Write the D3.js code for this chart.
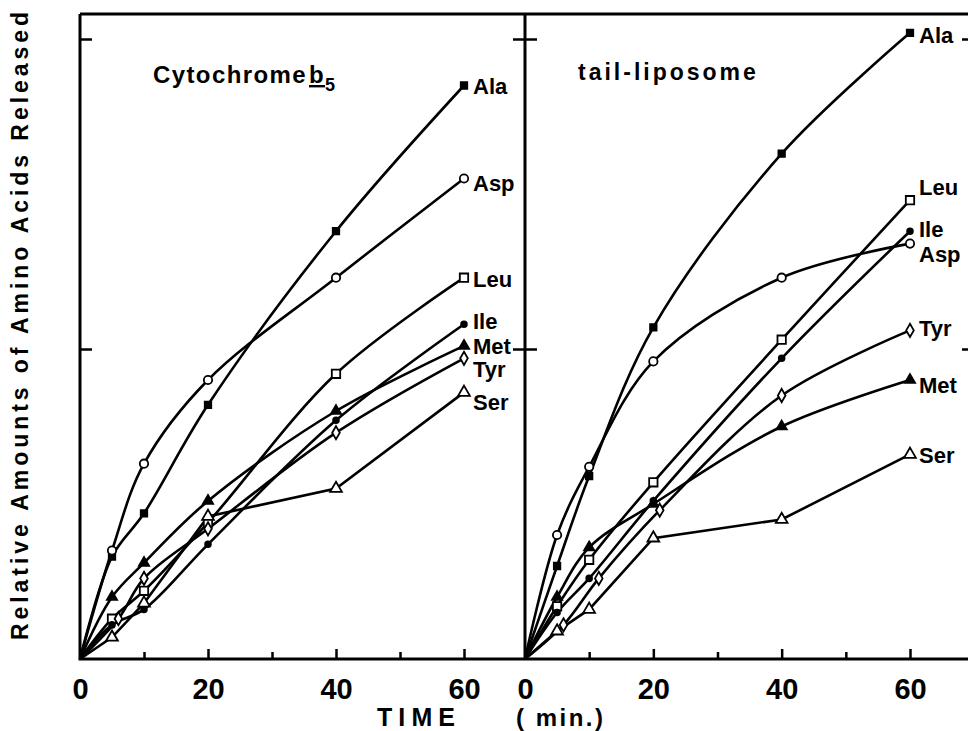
<!DOCTYPE html>
<html>
<head>
<meta charset="utf-8">
<script src="https://cdn.jsdelivr.net/npm/d3@7"></script>
<style>
    body { margin: 0; background: #fff; }
    svg { display: block; font-family: "Liberation Sans", Arial, sans-serif; font-weight: bold; }
</style>
</head>
<body>
<svg id="chart" width="968" height="731"></svg>
<script>
var aminoAcids = ["Ala", "Asp", "Leu", "Ile", "Met", "Tyr", "Ser"];
var times = [0, 5, 10, 20, 40, 60];
var tyrTimesCyto = [0, 6, 10, 20, 40, 60];
var tyrTimesTail = [0, 6, 11.5, 21, 40, 60];

// Cytochrome b5
var cytoAla = [0, 0.33, 0.47, 0.82, 1.38, 1.85];
var cytoAsp = [0, 0.35, 0.63, 0.90, 1.23, 1.55];
var cytoLeu = [0, 0.13, 0.22, 0.44, 0.92, 1.23];
var cytoIle = [0, 0.11, 0.16, 0.37, 0.77, 1.08];
var cytoMet = [0, 0.20, 0.31, 0.51, 0.80, 1.01];
var cytoTyr = [0, 0.13, 0.26, 0.42, 0.73, 0.97];
var cytoSer = [0, 0.07, 0.18, 0.46, 0.55, 0.86];

// tail-liposome
var tailAla = [0, 0.30, 0.59, 1.07, 1.63, 2.02];
var tailAsp = [0, 0.40, 0.62, 0.96, 1.23, 1.34];
var tailLeu = [0, 0.17, 0.32, 0.57, 1.03, 1.48];
var tailIle = [0, 0.15, 0.26, 0.51, 0.97, 1.38];
var tailMet = [0, 0.20, 0.36, 0.50, 0.75, 0.90];
var tailTyr = [0, 0.11, 0.26, 0.48, 0.85, 1.06];
var tailSer = [0, 0.09, 0.16, 0.39, 0.45, 0.66];

var yTicks = [1, 2];
var xMajorTicks = [0, 20, 40, 60];
var xMinorTicks = [10, 30, 50];

// marker look per amino acid
var markers = {
    Ala: {type: d3.symbolSquare, fill: true, size: 42},
    Asp: {type: d3.symbolCircle, fill: false, size: 55},
    Leu: {type: d3.symbolSquare, fill: false, size: 70},
    Ile: {type: d3.symbolCircle, fill: true, size: 26},
    Met: {type: d3.symbolTriangle, fill: true, size: 45},
    Tyr: {type: d3.symbolDiamond, fill: false, size: 50},
    Ser: {type: d3.symbolTriangle, fill: false, size: 60}
};

var svg = d3.select("#chart");
var yTop = 14, yBottom = 659;

var y = d3.scaleLinear().domain([0, 2]).range([yBottom, 39]);

function panel(opts) {
    var x = d3.scaleLinear().domain([0, 60]).range(opts.range);
    var g = svg.append("g");

    var smooth = d3.line()
        .x(function (d) { return x(d.t); })
        .y(function (d) { return y(d.v); })
        .curve(d3.curveCatmullRom.alpha(0.5));
    var straight = d3.line()
        .x(function (d) { return x(d.t); })
        .y(function (d) { return y(d.v); });

    opts.series.forEach(function (s) {
        var pts = s.values.map(function (v, i) { return {t: s.times[i], v: v}; });
        g.append("path")
            .datum(pts)
            .attr("d", s.name === "Ser" ? straight : smooth)
            .attr("fill", "none")
            .attr("stroke", "#000")
            .attr("stroke-width", 2.6);
    });

    opts.series.forEach(function (s) {
        var m = markers[s.name];
        var pts = s.values.map(function (v, i) { return {t: s.times[i], v: v}; }).slice(1);
        var sym = d3.symbol().type(m.type).size(m.size);
        g.selectAll(null).data(pts).enter().append("path")
            .attr("d", sym)
            .attr("transform", function (d) { return "translate(" + x(d.t) + "," + y(d.v) + ")"; })
            .attr("fill", m.fill ? "#000" : "#fff")
            .attr("stroke", "#000")
            .attr("stroke-width", 1.8);
    });

    // end labels
    opts.series.forEach(function (s, i) {
        var last = s.values[s.values.length - 1];
        g.append("text")
            .attr("x", x(60) + opts.labelDx)
            .attr("y", y(last) + opts.labelDy[i])
            .attr("font-size", 22)
            .text(s.name);
    });

    var minor = d3.axisBottom(x).tickValues(xMinorTicks).tickSize(-7).tickFormat("");
    var major = d3.axisBottom(x).tickValues(xMajorTicks).tickSize(-10).tickPadding(19)
        .tickFormat(d3.format("d"));

    var gm = g.append("g").attr("transform", "translate(0," + yBottom + ")").call(minor);
    var gM = g.append("g").attr("transform", "translate(0," + yBottom + ")").call(major);
    gm.select(".domain").remove();
    gM.select(".domain").remove();
    g.selectAll(".tick line").attr("stroke-width", 2.5);
    gM.selectAll("text")
        .attr("font-family", "Liberation Sans, Arial, sans-serif")
        .attr("font-weight", "bold")
        .attr("font-size", 29);

    return x;
}

var xL = panel({
    range: [80, 464],
    series: [
        {name: "Ala", times: times, values: cytoAla},
        {name: "Asp", times: times, values: cytoAsp},
        {name: "Leu", times: times, values: cytoLeu},
        {name: "Ile", times: times, values: cytoIle},
        {name: "Met", times: times, values: cytoMet},
        {name: "Tyr", times: tyrTimesCyto, values: cytoTyr},
        {name: "Ser", times: times, values: cytoSer}
    ],
    labelDx: 9,
    labelDy: [8, 12, 9, 5, 8, 19, 18]
});

var xR = panel({
    range: [525, 910],
    series: [
        {name: "Ala", times: times, values: tailAla},
        {name: "Asp", times: times, values: tailAsp},
        {name: "Leu", times: times, values: tailLeu},
        {name: "Ile", times: times, values: tailIle},
        {name: "Met", times: times, values: tailMet},
        {name: "Tyr", times: tyrTimesTail, values: tailTyr},
        {name: "Ser", times: times, values: tailSer}
    ],
    labelDx: 9,
    labelDy: [10, 18, -5, 6, 13, 6, 9]
});

// frame
var frame = svg.append("g").attr("stroke", "#000").attr("stroke-width", 3).attr("fill", "none");
frame.append("path").attr("d", "M80," + yTop + "V" + yBottom + "H968");
frame.append("path").attr("d", "M80," + yTop + "H968");
frame.append("path").attr("d", "M525," + yTop + "V" + yBottom);

// y ticks
function yTickAxis(axis, xpos, len) {
    var a = svg.append("g").attr("transform", "translate(" + xpos + ",0)")
        .call(axis(y).tickValues(yTicks).tickSize(len).tickFormat(""));
    a.select(".domain").remove();
    a.selectAll(".tick line").attr("stroke-width", 2.5);
}
yTickAxis(d3.axisRight, 80, 12);
yTickAxis(d3.axisLeft, 525, 12);
yTickAxis(d3.axisRight, 525, 12);
yTickAxis(d3.axisLeft, 972, 10);

// panel titles
var t1 = svg.append("text").attr("x", 153).attr("y", 83).attr("font-size", 24).attr("letter-spacing", 1.4);
t1.append("tspan").text("Cytochrome");
t1.append("tspan").attr("text-decoration", "underline").attr("dx", 2).text("b");
t1.append("tspan").attr("font-size", 18).attr("dy", 8).text("5");

svg.append("text").attr("x", 578).attr("y", 80).attr("font-size", 23)
    .attr("letter-spacing", 3).text("tail-liposome");

// axis titles
svg.append("text")
    .attr("transform", "translate(28,326) rotate(-90)")
    .attr("text-anchor", "middle")
    .attr("font-size", 23)
    .attr("textLength", 628)
    .attr("lengthAdjust", "spacing")
    .text("Relative Amounts of Amino Acids Released");

svg.append("text").attr("x", 377).attr("y", 726).attr("font-size", 25)
    .attr("textLength", 78).attr("lengthAdjust", "spacing").text("TIME");
svg.append("text").attr("x", 516).attr("y", 726).attr("font-size", 24)
    .attr("textLength", 87).attr("lengthAdjust", "spacing").text("( min.)");
</script>
</body>
</html>
